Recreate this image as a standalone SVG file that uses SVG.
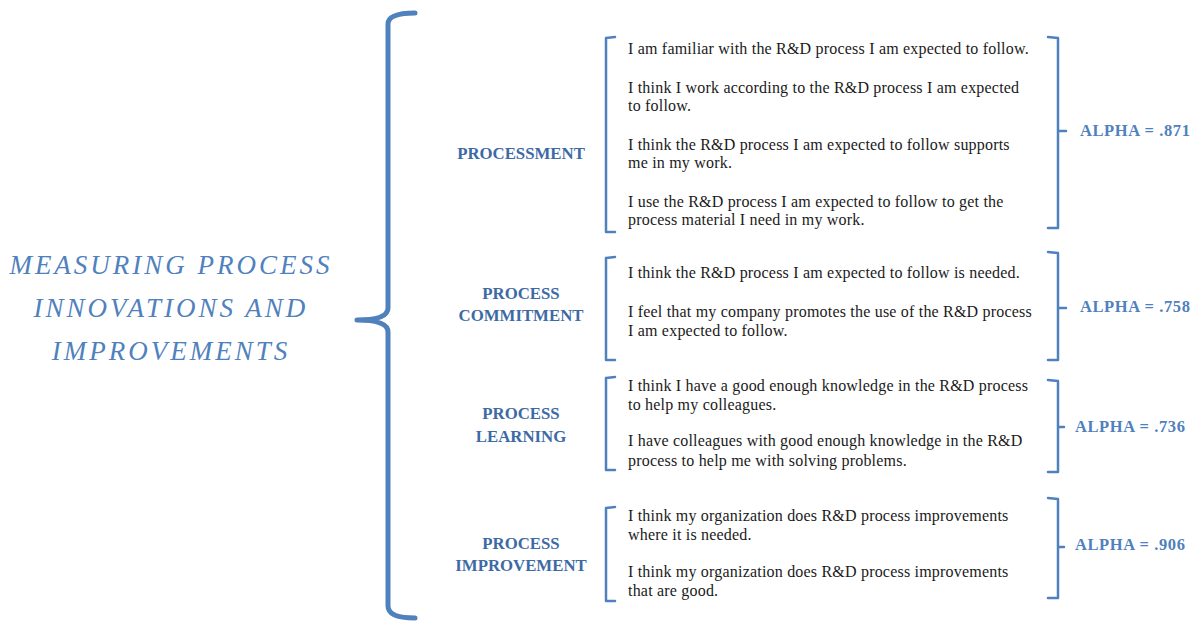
<svg xmlns="http://www.w3.org/2000/svg" width="1198" height="622" viewBox="0 0 1198 622">
<style>
.bg{fill:#ffffff}
.title{font-family:"Liberation Serif",serif;font-style:italic;font-size:27px;fill:#4f81bd;letter-spacing:3px;text-anchor:middle}
.lbl{font-family:"Liberation Serif",serif;font-weight:bold;font-size:16.8px;fill:#3d6aa5;text-anchor:middle}
.alpha{font-family:"Liberation Serif",serif;font-weight:bold;font-size:16.5px;fill:#4f81bd;letter-spacing:0.6px}
.item{font-family:"Liberation Serif",serif;font-size:16px;fill:#1a1a1a;letter-spacing:0.2px}
.br{fill:none;stroke:#4f81bd;stroke-width:2.5;stroke-linecap:round;stroke-linejoin:round}
.big{fill:none;stroke:#4f81bd;stroke-width:5;stroke-linecap:round;stroke-linejoin:round}
</style>
<rect class="bg" x="0" y="0" width="1198" height="622"/>

<g id="title">
<text class="title" x="171" y="274">MEASURING PROCESS</text>
<text class="title" x="171" y="317">INNOVATIONS AND</text>
<text class="title" x="171" y="360">IMPROVEMENTS</text>
</g>

<g id="connectors">
<path class="big" d="M415,13 Q388,13 388,24 L388,308 Q388,320 357,320 Q388,320 388,332 L388,606 Q388,618 415,618"/>
<path class="br" d="M615,37 L606,38 L606,232 L615,232"/>
<path class="br" d="M1048,37 L1058,38 L1058,228 L1048,228 M1058,131 L1066,131"/>
<path class="br" d="M615,257 L606,258 L606,360 L615,360"/>
<path class="br" d="M1048,252 L1058,253 L1058,360 L1048,360 M1058,308 L1066,308"/>
<path class="br" d="M615,377 L606,378 L606,470 L615,470"/>
<path class="br" d="M1048,380 L1058,381 L1058,472 L1048,472 M1058,427 L1064,427"/>
<path class="br" d="M615,507 L606,508 L606,601 L615,601"/>
<path class="br" d="M1048,498 L1058,499 L1058,598 L1048,598 M1058,547 L1064,547"/>
</g>

<g id="processment">
<text class="lbl" x="521" y="159">PROCESSMENT</text>
<text class="item" x="628" y="54">I am familiar with the R&amp;D process I am expected to follow.</text>
<text class="item" x="628" y="93">I think I work according to the R&amp;D process I am expected</text>
<text class="item" x="628" y="111">to follow.</text>
<text class="item" x="628" y="150">I think the R&amp;D process I am expected to follow supports</text>
<text class="item" x="628" y="168">me in my work.</text>
<text class="item" x="628" y="207">I use the R&amp;D process I am expected to follow to get the</text>
<text class="item" x="628" y="225">process material I need in my work.</text>
<text class="alpha" x="1080" y="136">ALPHA = .871</text>
</g>

<g id="commitment">
<text class="lbl" x="521" y="299">PROCESS</text>
<text class="lbl" x="521" y="321">COMMITMENT</text>
<text class="item" x="628" y="278">I think the R&amp;D process I am expected to follow is needed.</text>
<text class="item" x="628" y="317">I feel that my company promotes the use of the R&amp;D process</text>
<text class="item" x="628" y="336">I am expected to follow.</text>
<text class="alpha" x="1080" y="312">ALPHA = .758</text>
</g>

<g id="learning">
<text class="lbl" x="521" y="419">PROCESS</text>
<text class="lbl" x="521" y="442">LEARNING</text>
<text class="item" x="628" y="391">I think I have a good enough knowledge in the R&amp;D process</text>
<text class="item" x="628" y="410">to help my colleagues.</text>
<text class="item" x="628" y="446">I have colleagues with good enough knowledge in the R&amp;D</text>
<text class="item" x="628" y="466">process to help me with solving problems.</text>
<text class="alpha" x="1075" y="432">ALPHA = .736</text>
</g>

<g id="improvement">
<text class="lbl" x="521" y="549">PROCESS</text>
<text class="lbl" x="521" y="571">IMPROVEMENT</text>
<text class="item" x="628" y="521">I think my organization does R&amp;D process improvements</text>
<text class="item" x="628" y="540">where it is needed.</text>
<text class="item" x="628" y="577">I think my organization does R&amp;D process improvements</text>
<text class="item" x="628" y="596">that are good.</text>
<text class="alpha" x="1075" y="550">ALPHA = .906</text>
</g>
</svg>
